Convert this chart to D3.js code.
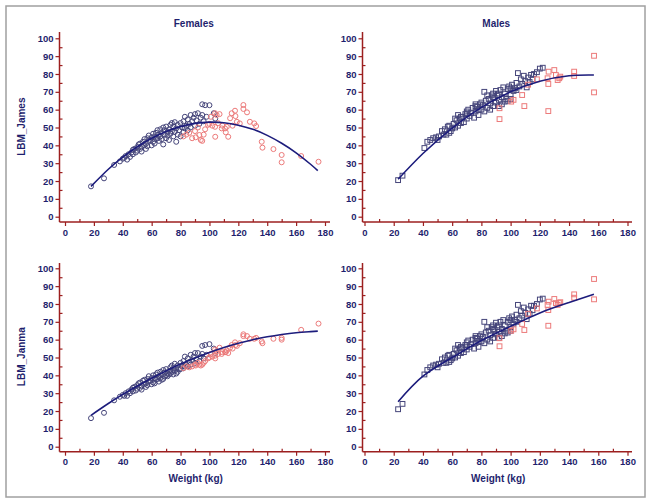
<!DOCTYPE html>
<html><head><meta charset="utf-8">
<script src="https://cdn.jsdelivr.net/npm/d3@7"></script>
<style>
body{margin:0;background:#fff;}
svg{display:block;font-family:"Liberation Sans",Arial,sans-serif;}
</style></head>
<body><svg id="c" width="651" height="503"></svg>
<script>
// ---- tick labels ----
const xTicks = [0,20,40,60,80,100,120,140,160,180];
const xMinor = [10,30,50,70,90,110,130,150,170];
const yTicks = [0,10,20,30,40,50,60,70,80,90,100];
const yMinor = [5,15,25,35,45,55,65,75,85,95];
const colTitles = ["Females","Males"];
const rowTitles = ["LBM_James","LBM_Janma"];
const xTitle = "Weight (kg)";

// ---- females, group 1 (navy) ----
const femNavyWeight = [
18,27,34,38,40,41,42,43,44,45,
46,47,47,48,49,50,50,51,52,52,
53,53,54,55,55,56,56,57,57,58,
58,59,60,60,61,61,62,62,63,63,
64,64,65,65,66,66,67,67,68,68,
69,69,70,70,71,71,72,72,73,73,
74,74,75,75,76,76,77,77,78,78,
79,80,80,81,82,82,83,83,84,85,
85,86,87,87,88,89,90,90,91,92,
93,94,95,95,96,97,98,100,103,104];
const femNavyJames = [
17,21.5,29,31,32.5,33,34,32,35,33.5,
36,35,37.5,38,36,39,37,40.5,38,41,
39.5,36.5,42,40,43.5,41,38,44,39.5,42.5,
45.5,43,40,44.5,46.5,42,45,41,47,43.5,
44,48.5,46,42.5,49,45,47,43.5,50,40.5,
46,48.5,44,50.5,47.5,45.5,49,43,51.5,46.5,
48,52.5,45,50.5,53,47.5,42,49.5,51.5,46,
48.5,52.5,45,50,53.5,47.5,49.5,56,51,54.5,
48.5,52,57,50,53.5,55.5,51,57.5,54,58,
52,55.5,63,57,53.5,62.5,56,62.5,58,55];
const femNavyJanma = [
16,19,26,28,29,28.5,30,28.5,31,30,
32,31,33,33.5,31.5,34.5,32.5,35.5,33,36,
34,32,37,35,37.5,35.5,33.5,38,34.5,36.5,
39.5,37,35,38.5,40,36,38.5,35.5,40.5,37.5,
38,41.5,39.5,36.5,42,38.5,40.5,37.5,43,38,
39.5,41.5,40,43.5,41,39.5,42.5,40.5,44.5,41,
42,45.5,40.5,44,46.5,42.5,41,44,45.5,42,
43.5,47,43.5,45,48,44,45,50.5,46,49.5,
45,47.5,51.5,46,48.5,50.5,47,52.5,49,52.5,
48,50.5,56.5,52,49.5,57,51.5,57.5,55,52.5];

// ---- females, group 2 (red) ----
const femRedWeight = [
82,84,86,88,90,90.5,92,93,94,95,
96,97,99,100,101,102,103.9,103.9,104,105,
106,107,108.5,109,110.8,111.3,112,113,114.3,115.4,
116,117.7,118,119,121,123.5,123.5,126,128,131,
132.3,136.2,136.7,144.3,150,150,163.5,175.5];
const femRedJames = [
45,46,47,44,48,44.5,50,45.8,43,42.5,
46,49,51.5,52,56,51,50.4,58,44.8,57,
52.4,57.5,49.5,51,49.5,47.3,50.4,44.8,55.2,58,
51,59.4,56.4,53.2,52.3,62.6,60.4,58.5,53.2,52.3,
50.8,42,38.7,37.9,34.6,30.5,34,30.8];
const femRedJanma = [
44,45,44.5,45,46,45.5,47,46,45.5,46,
47,48,49.5,50,52,50.5,51,54.5,49.5,53.5,
52,55.5,52,53,53,53,54,52.5,55.5,57,
55,58.5,57,56.5,58,63,62,62,60.5,60.5,
61,59,58,60.5,61,60,65.5,69];

// ---- males, group 1 (navy) ----
const maleNavyWeight = [
23,26,41,43,45,47,49,50,51,53,
54,55,56,57,58,58,59,60,61,62,
62,63,64,64,65,66,66,67,68,69,
70,70,71,72,73,74,75,76,76,77,
78,78,79,80,80,81,82,82,83,84,
84,85,86,86,87,88,88,89,90,90,
91,92,92,93,94,94,95,96,96,97,
98,98,99,100,100,101,102,103,104,105,
106,107,108,109,110,111,112,113,114,115,
116,118,120,122,88,92,76,70,104,100];
const maleNavyJames = [
20.5,23,38.5,42,43,44,44.5,43,45,48,
46,49,46,50.5,51,47,48,49.5,52,50,
55,54,51,57,55,52.5,56,56,53,57.5,
55,59,60,56.5,58,61,55.5,59,62,61.5,
57,60,63,60,64,62.5,70,59,65,61,
68,66,63.5,60,68,62,69,66.5,70.5,64,
68,65.5,62,71,67,63,72.5,69,64.5,66,
71.5,65,73,68.5,66,74,70.5,72,75,80.5,
73,77,74.5,79,76,72.5,78,75.5,79.5,77,
80,81,83,83.5,67,69,63,58,71,72];
const maleNavyJanma = [
21,24,40.5,43,44.5,45.5,46,44.5,46.5,49,
47,50,47,51,51.5,47.5,48.5,49.5,52,50,
55,54,51,57,55,52.5,56,55.5,53,57,
54.5,58.5,59.5,56,57.5,60,55,58,61,60.5,
56,59,62,59,63,61.5,70,58,64,60,
67,65,62.5,59,67,61,68,65.5,69.5,63,
67,64.5,61,70,66,62,71,68,63.5,65,
70,64,72,67,65,73,69,71,74,79.5,
72,76,73.5,78,75,71.5,77,74.5,79,76.5,
79,80,82.5,83,66,68,62,57,70,71];

// ---- males, group 2 (red) ----
const maleRedWeight = [92.4,92.4,100.4,102,107.9,109.4,112,125.8,125.8,125.3,126,129.9,131,132.2,133.3,134,143.5,143.5,157.1,157.1,118];
const maleRedJames  = [54.7,60.8,64.5,65.5,68.2,62,74,59.2,74.4,77.6,81.3,82.2,79.4,76.6,77.6,78.5,81.3,78.9,90.2,69.7,77];
const maleRedJanma  = [56.3,60.8,65,65.8,68.8,65.4,74.5,67.8,76.6,79.5,81.3,82.8,80.5,79.5,80.5,81,85.4,83.5,94,82.6,77.5];

// ---- fitted curves ----
const femCurveX = [18,30,40,50,60,70,80,90,100,110,120,130,140,150,160,170,175];
const femJamesCurveY = [17,26.6,33.4,39.2,44,47.8,50.5,52.3,53,52.7,51.3,49,45.6,41.2,35.8,29.4,25.8];
const femJanmaCurveY = [17.6,24.2,29.3,34,38.4,42.5,46.3,49.7,52.8,55.6,58,60,61.6,62.9,63.9,64.5,64.8];
const maleCurveX = [23,40,60,80,100,120,140,157];
const maleJamesCurveY = [21,35.4,49.7,61.3,70,75.9,79,79.4];
const maleJanmaCurveY = [25.2,39.5,50,59.5,67.5,75,80.8,85.4];

// ---- styles ----
const AXIS = "#9c1f1f", TEXT = "#1f1f6e", CURVE = "#1c1c7c", NAVY = "#45457a", RED = "#ec7a7a";

const svg = d3.select("#c");
svg.append("rect").attr("x",6).attr("y",6).attr("width",639).attr("height",491)
  .attr("fill","#fff").attr("stroke","#a0a0a0").attr("stroke-width",1.5);

const panels = [
 {col:0,row:0,shape:"circle",nx:femNavyWeight,ny:femNavyJames,rx:femRedWeight,ry:femRedJames,cx:femCurveX,cy:femJamesCurveY},
 {col:1,row:0,shape:"square",nx:maleNavyWeight,ny:maleNavyJames,rx:maleRedWeight,ry:maleRedJames,cx:maleCurveX,cy:maleJamesCurveY},
 {col:0,row:1,shape:"circle",nx:femNavyWeight,ny:femNavyJanma,rx:femRedWeight,ry:femRedJanma,cx:femCurveX,cy:femJanmaCurveY},
 {col:1,row:1,shape:"square",nx:maleNavyWeight,ny:maleNavyJanma,rx:maleRedWeight,ry:maleRedJanma,cx:maleCurveX,cy:maleJanmaCurveY}
];
const colGeom = [{x0:65,x1:325,axisX:59.5,axisRight:330},{x0:364.5,x1:627.5,axisX:362.5,axisRight:632}];
const rowGeom = [{y0:216.7,y1:38.3,axisY:222,axisTop:32},{y0:446.7,y1:268.3,axisY:451.7,axisTop:263}];

panels.forEach(p=>{
  const cg = colGeom[p.col], rg = rowGeom[p.row];
  const x = d3.scaleLinear().domain([0,180]).range([cg.x0,cg.x1]);
  const y = d3.scaleLinear().domain([0,100]).range([rg.y0,rg.y1]);
  const g = svg.append("g");

  // x axis
  const xa = g.append("g").attr("transform",`translate(0,${rg.axisY})`)
    .call(d3.axisBottom(x).tickValues(xTicks).tickSize(4).tickPadding(3));
  const xm = g.append("g").attr("transform",`translate(0,${rg.axisY})`)
    .call(d3.axisBottom(x).tickValues(xMinor).tickSize(-3).tickFormat(""));
  // y axis
  const ya = g.append("g").attr("transform",`translate(${cg.axisX},0)`)
    .call(d3.axisLeft(y).tickValues(yTicks).tickSize(4).tickPadding(2));
  const ym = g.append("g").attr("transform",`translate(${cg.axisX},0)`)
    .call(d3.axisLeft(y).tickValues(yMinor).tickSize(-3).tickFormat(""));
  [xa,xm,ya,ym].forEach(a=>{
    a.select(".domain").remove();
    a.selectAll(".tick line").attr("stroke",AXIS).attr("stroke-width",1.2);
    a.selectAll("text").attr("fill",TEXT).attr("font-size","9.5px").attr("font-weight","bold")
      .attr("font-family","Liberation Sans, Arial, sans-serif");
  });
  g.append("line").attr("x1",cg.axisX).attr("x2",cg.axisX).attr("y1",rg.axisTop).attr("y2",rg.axisY)
    .attr("stroke",AXIS).attr("stroke-width",1.5);
  g.append("line").attr("x1",cg.axisX).attr("x2",cg.axisRight).attr("y1",rg.axisY).attr("y2",rg.axisY)
    .attr("stroke",AXIS).attr("stroke-width",1.5);

  // points
  const drawPts = (xs, ys, color) => {
    const data = xs.map((w,i)=>[w,ys[i]]);
    if (p.shape==="circle") {
      g.append("g").selectAll("circle").data(data).join("circle")
        .attr("cx",d=>x(d[0])).attr("cy",d=>y(d[1])).attr("r",2.5)
        .attr("fill","none").attr("stroke",color).attr("stroke-width",1);
    } else {
      g.append("g").selectAll("rect").data(data).join("rect")
        .attr("x",d=>x(d[0])-2.4).attr("y",d=>y(d[1])-2.4).attr("width",4.8).attr("height",4.8)
        .attr("fill","none").attr("stroke",color).attr("stroke-width",1);
    }
  };
  drawPts(p.nx,p.ny,NAVY);
  drawPts(p.rx,p.ry,RED);

  // curve
  const line = d3.line().x(d=>x(d[0])).y(d=>y(d[1])).curve(d3.curveNatural);
  g.append("path").datum(p.cx.map((v,i)=>[v,p.cy[i]])).attr("d",line)
    .attr("fill","none").attr("stroke",CURVE).attr("stroke-width",1.6);

  // titles
  const cx = (cg.axisX+cg.axisRight)/2;
  if (p.row===0) g.append("text").attr("x",cx-1).attr("y",27).attr("text-anchor","middle")
    .attr("fill",TEXT).attr("font-size","10px").attr("font-weight","bold").text(colTitles[p.col]);
  if (p.row===1) g.append("text").attr("x",cx+1).attr("y",482).attr("text-anchor","middle")
    .attr("fill",TEXT).attr("font-size","10px").attr("font-weight","bold").text(xTitle);
  if (p.col===0) {
    const ymid = (rg.y0+rg.y1)/2 - (p.row===0?0.8:0.8);
    g.append("text").attr("transform",`translate(25,${ymid}) rotate(-90)`).attr("text-anchor","middle")
      .attr("fill",TEXT).attr("font-size","10px").attr("font-weight","bold").text(rowTitles[p.row]);
  }
});
</script></body></html>
